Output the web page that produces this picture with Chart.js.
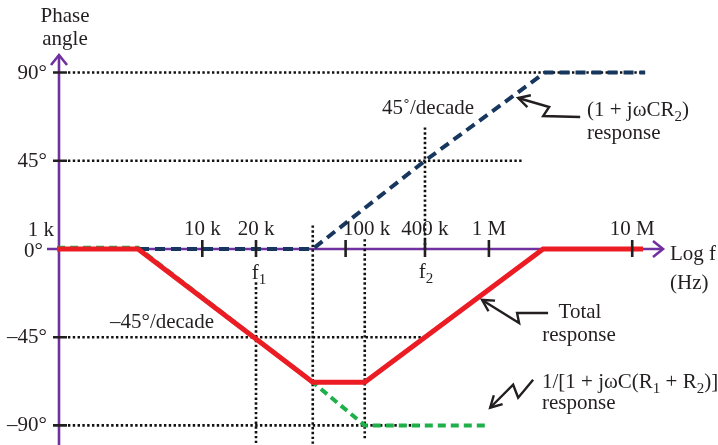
<!DOCTYPE html>
<html>
<head>
<meta charset="utf-8">
<script src="https://cdn.jsdelivr.net/npm/chart.js@4"></script>
<style>
  html, body { margin: 0; padding: 0; background: #fff; }
  #wrap { width: 718px; height: 445px; position: relative; }
</style>
</head>
<body>
<div id="wrap"><canvas id="bode"></canvas></div>
<script>
/* Bode phase plot: total response = (1 + jωCR2) / [1 + jωC(R1 + R2)] */

// frequency ticks (Hz) as placed on the log axis, with their printed labels
const freqTicks = [1e4, 2.37e4, 1e5, 3.58e5, 1e6, 1e7];
const freqLabels = ['10 k', '20 k', '100 k', '400 k', '1 M', '10 M'];
const angleTicks = [90, 45, -45, -90];
const angleLabels = ['90°', '45°', '–45°', '–90°'];

// asymptotic segments (Hz, degrees)
const totalFreq = [970, 3560, 59000, 136000, 2390000, 11900000];
const totalPhase = [0, 0, -68, -68, 0, 0];
const zeroFreq = [1000, 59000, 358000, 2460000, 12300000];
const zeroPhase = [0, 0, 45, 90, 90];
const poleFreq = [970, 3560, 59000, 136000, 955000];
const polePhase = [0.6, 0.6, -68, -90, -90];

// dotted guide lines: [phase, fromFreq, toFreq] and [freq, fromPhase, toPhase]
const guideH = [[90, 1155, 12.3e6], [45, 1155, 1.73e6], [-45, 1155, 3.58e5], [-90, 1155, 3.3e5]];
const guideV = [[2.37e4, -17, -100], [5.9e4, 12, -100], [1.36e5, 5, -97], [3.58e5, 62, 0]];

const FONT = '"Liberation Serif", "Times New Roman", serif';
const INK = '#231f20';
const PURPLE = '#7030a0';

const pts = (xs, ys) => xs.map((x, i) => ({ x, y: ys[i] }));

const DOTTED = {
    borderColor: '#111', borderWidth: 2.6, borderDash: [2.4, 2.4],
    pointRadius: 0, fill: false, order: 3
};

const guideSets = [
    ...guideH.map(([p, f0, f1]) => ({ ...DOTTED, data: [{ x: f0, y: p }, { x: f1, y: p }] })),
    ...guideV.map(([f, p0, p1]) => ({ ...DOTTED, data: [{ x: f, y: p0 }, { x: f, y: p1 }] }))
];

/* text with optional subscript parts: [[str, isSub], ...] */
function rich(ctx, parts, x, y, align, size) {
    const subSize = Math.round(size * 0.7);
    let w = 0;
    parts.forEach(([s, sub]) => {
        ctx.font = `${sub ? subSize : size}px ${FONT}`;
        w += ctx.measureText(s).width;
    });
    let cx = align === 'center' ? x - w / 2 : align === 'right' ? x - w : x;
    ctx.textAlign = 'left';
    parts.forEach(([s, sub]) => {
        ctx.font = `${sub ? subSize : size}px ${FONT}`;
        ctx.fillText(s, cx, sub ? y + 5 : y);
        cx += ctx.measureText(s).width;
    });
}

function zigArrow(ctx, tip, offs) {
    ctx.save();
    ctx.strokeStyle = INK;
    ctx.lineWidth = 2.4;
    ctx.lineJoin = 'miter';
    ctx.beginPath();
    offs.forEach(([dx, dy], i) => {
        if (i === 0) ctx.moveTo(tip.x + dx, tip.y + dy);
        else ctx.lineTo(tip.x + dx, tip.y + dy);
    });
    ctx.lineTo(tip.x, tip.y);
    ctx.stroke();
    const [lx, ly] = offs[offs.length - 1];
    const a = Math.atan2(ly, lx);
    ctx.beginPath();
    ctx.moveTo(tip.x + 13 * Math.cos(a - 0.5), tip.y + 13 * Math.sin(a - 0.5));
    ctx.lineTo(tip.x, tip.y);
    ctx.lineTo(tip.x + 13 * Math.cos(a + 0.5), tip.y + 13 * Math.sin(a + 0.5));
    ctx.stroke();
    ctx.restore();
}

const axesPlugin = {
    id: 'bodeAxes',
    beforeDatasetsDraw(chart) {
        const { ctx, scales: { x, y }, chartArea } = chart;
        const ox = x.getPixelForValue(1000), oy = y.getPixelForValue(0);
        const xEnd = chartArea.right - 7, yTop = chartArea.top + 5;
        ctx.save();
        ctx.strokeStyle = PURPLE;
        ctx.lineWidth = 2.6;
        ctx.beginPath();
        ctx.moveTo(ox - 12, oy); ctx.lineTo(xEnd, oy);
        ctx.moveTo(ox, chartArea.bottom); ctx.lineTo(ox, yTop);
        ctx.stroke();
        ctx.beginPath();
        ctx.moveTo(xEnd - 10, oy - 8); ctx.lineTo(xEnd, oy); ctx.lineTo(xEnd - 10, oy + 8);
        ctx.moveTo(ox - 8, yTop + 10); ctx.lineTo(ox, yTop); ctx.lineTo(ox + 8, yTop + 10);
        ctx.stroke();
        ctx.restore();
    },
    afterDatasetsDraw(chart) {
        const { ctx, scales: { x, y } } = chart;
        const ox = x.getPixelForValue(1000), oy = y.getPixelForValue(0);
        ctx.save();
        ctx.strokeStyle = INK;
        ctx.fillStyle = INK;
        ctx.lineWidth = 2.6;
        ctx.beginPath();
        freqTicks.forEach(f => {
            const px = x.getPixelForValue(f);
            ctx.moveTo(px, oy - 9); ctx.lineTo(px, oy + 8);
        });
        angleTicks.forEach(a => {
            const py = y.getPixelForValue(a);
            ctx.moveTo(ox - 6, py); ctx.lineTo(ox + 8, py);
        });
        ctx.stroke();

        const S = 21;
        ctx.textBaseline = 'alphabetic';
        rich(ctx, [['Phase']], ox + 6, 22, 'center', S);
        rich(ctx, [['angle']], ox + 6, 45, 'center', S);
        angleTicks.forEach((a, i) => rich(ctx, [[angleLabels[i]]], ox - 12, y.getPixelForValue(a) + 6, 'right', S));
        rich(ctx, [['0°']], ox - 16, oy + 8, 'right', S);
        rich(ctx, [['1 k']], ox - 5, oy - 13, 'right', S);

        const nudge = { '100 k': 21 };
        freqTicks.forEach((f, i) => {
            const lab = freqLabels[i];
            rich(ctx, [[lab]], x.getPixelForValue(f) + (nudge[lab] || 0), oy - 14, 'center', S);
        });
        rich(ctx, [['f'], ['1', true]], x.getPixelForValue(freqTicks[1]) + 3, oy + 30, 'center', S);
        rich(ctx, [['f'], ['2', true]], x.getPixelForValue(freqTicks[3]) + 1, oy + 29, 'center', S);
        rich(ctx, [['Log f']], 670, oy + 11, 'left', S);
        rich(ctx, [['(Hz)']], 670, oy + 40, 'left', S);

        rich(ctx, [['45˚/decade']], 382, 114, 'left', S);
        rich(ctx, [['(1 + jωCR'], ['2', true], [')']], 587, 116, 'left', S);
        rich(ctx, [['response']], 587, 139, 'left', S);
        rich(ctx, [['Total']], 580, 318, 'center', S);
        rich(ctx, [['response']], 579, 341, 'center', S);
        rich(ctx, [['1/[1 + jωC(R'], ['1', true], [' + R'], ['2', true], [')]']], 542, 388, 'left', S);
        rich(ctx, [['response']], 542, 409, 'left', S);
        rich(ctx, [['–45°/decade']], 110, 328, 'left', S);

        // pointer arrows, tips anchored on the curves
        const tip = (f, p) => ({ x: x.getPixelForValue(f), y: y.getPixelForValue(p) });
        zigArrow(ctx, tip(8.96e5, -26), [[66, 13], [35, 13], [37, 23]]);
        zigArrow(ctx, tip(1.6e6, 77), [[62, 19], [25, 18], [31, 9]]);
        zigArrow(ctx, tip(1.02e6, -81), [[43, -28], [28, -10], [23, -23]]);
        ctx.restore();
    }
};

new Chart(document.getElementById('bode'), {
    type: 'line',
    data: {
        datasets: [
            {
                label: 'Total response', data: pts(totalFreq, totalPhase),
                borderColor: '#ec1c24', borderWidth: 5, pointRadius: 0, order: 0
            },
            {
                label: '(1 + jωCR2) response', data: pts(zeroFreq, zeroPhase),
                borderColor: '#17375e', borderWidth: 4, borderDash: [10, 6],
                pointRadius: 0, order: 1
            },
            {
                label: '1/[1 + jωC(R1 + R2)] response', data: pts(poleFreq, polePhase),
                borderColor: '#1fb04a', borderWidth: 4, borderDash: [8, 5],
                pointRadius: 0, order: 2
            },
            ...guideSets
        ]
    },
    options: {
        responsive: true,
        maintainAspectRatio: false,
        animation: false,
        events: [],
        layout: { padding: { left: 40, right: 48, top: 50, bottom: 0 } },
        elements: { line: { tension: 0, borderCapStyle: 'butt' } },
        scales: {
            x: { type: 'logarithmic', display: false, min: 737, max: 18.35e6 },
            y: { type: 'linear', display: false, min: -100, max: 101.5 }
        },
        plugins: { legend: { display: false }, tooltip: { enabled: false } }
    },
    plugins: [axesPlugin]
});
</script>
</body>
</html>
